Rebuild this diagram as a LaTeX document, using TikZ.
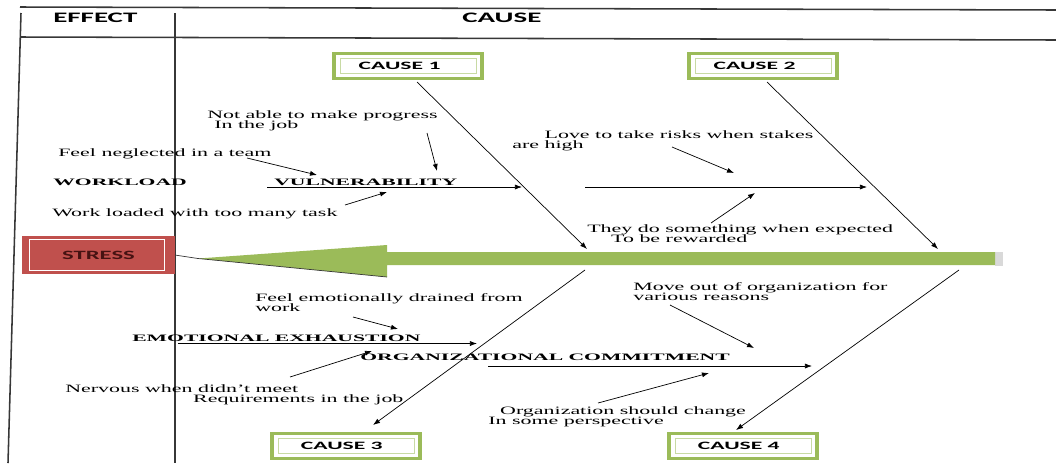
\documentclass[tikz,border=0pt]{standalone}
\usepackage{fontspec}
\setmainfont{Liberation Serif}
\newfontfamily\calibrifont{Carlito}
\usepackage{graphicx}
\definecolor{boxgreen}{RGB}{155, 187, 89}
\definecolor{spinegreen}{RGB}{155, 187, 89}
\definecolor{stressred}{RGB}{192, 80, 77}
\definecolor{stresstext}{RGB}{70, 18, 18}
\definecolor{framegray}{RGB}{55, 55, 55}
\usetikzlibrary{arrows.meta, positioning, calc}
\newcommand{\hwide}[2][1.95]{\scalebox{#1}[1]{#2}}
\tikzset{
  framebar/.style={draw=framegray, line width=1.1pt},
  causebox/.style={rectangle, draw=boxgreen, fill=white, line width=2.2pt, minimum width=3.7cm, minimum height=0.62cm, font=\calibrifont\bfseries\fontsize{8}{9}\selectfont,
    path picture={\draw[boxgreen!55, line width=0.5pt] ([shift={(6,5)}]path picture bounding box.north west) rectangle ([shift={(-6,-5)}]path picture bounding box.south east);}},
  stressbox/.style={rectangle, draw=stressred, fill=stressred, minimum width=3.8cm, minimum height=0.93cm, text=stresstext, font=\calibrifont\bfseries\fontsize{9}{10}\selectfont,
    path picture={\draw[white, line width=0.6pt] ([shift={(7,3)}]path picture bounding box.north west) rectangle ([shift={(-10,-3)}]path picture bounding box.south east);}},
  headlbl/.style={font=\calibrifont\bfseries\fontsize{10.3}{12}\selectfont, inner sep=0pt},
  catlbl/.style={font=\bfseries\fontsize{7}{8}\selectfont, inner sep=0pt},
  notelbl/.style={font=\fontsize{8}{7.6}\selectfont, inner sep=0pt, align=left},
  branch/.style={draw=black, line width=0.5pt, -{Latex[length=5pt, width=3.6pt]}},
}

\begin{document}
\begin{tikzpicture}[x=0.025cm, y=-0.025cm]
\useasboundingbox (0,0) rectangle (1056,463);

% table frame
\draw[framebar] (20,7) -- (1056,10);
\draw[framebar] (20,37) -- (1056,40);
\draw[framebar] (21,13) -- (8,463);
\draw[framebar] (175,13) -- (175,463);
\node[headlbl, anchor=base west] (effect) at (53,22.5) {\hwide[2]{EFFECT}};
\node[headlbl, anchor=base west] (cause) at (462,22.5) {\hwide[2]{CAUSE}};

% effect and spine
\node[stressbox] (stress) at (98.5,255) {\hwide{STRESS}};
\coordinate (tip) at (198,258.5);
\fill[gray!30] (995,252) rectangle (1003,266);
\fill[spinegreen] (tip) -- (387,245) -- (387,252) -- (995,252) -- (995,265) -- (387,265) -- (387,277) -- cycle;
\draw[framegray, line width=0.5pt] (stress.east) -- (tip) -- (387,277);

% cause boxes
\node[causebox] (c1) at (408,66) {\hwide[2.1]{CAUSE 1}\hspace*{12pt}};
\node[causebox] (c2) at (763,66) {\hwide[2.1]{CAUSE 2}\hspace*{12pt}};
\node[causebox] (c3) at (346,446) {\hwide[2.1]{CAUSE 3}\hspace*{6pt}};
\node[causebox] (c4) at (743,446) {\hwide[2.1]{CAUSE 4}\hspace*{6pt}};

% categories
\node[catlbl, anchor=base west] (workload) at (53,185.5) {\hwide[2.2]{WORKLOAD}};
\node[catlbl, anchor=base west] (vuln) at (274,185.5) {\hwide[2.2]{VULNERABILITY}};
\node[catlbl, anchor=base west] (exhaust) at (132,341.5) {\hwide[2.2]{EMOTIONAL EXHAUSTION}};
\node[catlbl, anchor=base west] (commit) at (360,360.5) {\hwide[2.2]{ORGANIZATIONAL COMMITMENT}};

% sub causes
\node[notelbl, anchor=base west] (neglect) at (58,156) {\hwide{Feel neglected in a team}};
\node[notelbl, anchor=north west] (progress) at (207,110) {\hwide{Not able to make progress}\\\hspace*{5pt}\hwide{In the job}};
\node[notelbl, anchor=base west] (loaded) at (52,216) {\hwide{Work loaded with too many task}};
\node[notelbl, anchor=north west] (risk) at (512,130) {\hspace*{23pt}\hwide{Love to take risks when stakes}\\\hwide{are high}};
\node[notelbl, anchor=north west] (reward) at (587,224) {\hwide{They do something when expected}\\\hspace*{17pt}\hwide{To be rewarded}};
\node[notelbl, anchor=north west] (drained) at (255,293) {\hwide{Feel emotionally drained from}\\\hwide{work}};
\node[notelbl, anchor=north west] (nervous) at (65,384) {\hwide{Nervous when didn't meet}\\\hspace*{91pt}\hwide{Requirements in the job}};
\node[notelbl, anchor=north west] (moveout) at (633,282) {\hwide{Move out of organization for}\\\hwide{various reasons}};
\node[notelbl, anchor=north west] (change) at (488,406) {\hspace*{8.5pt}\hwide{Organization should change}\\\hwide{In some perspective}};

% bone end points
\coordinate (c1-s) at (417,82);     \coordinate (c1-e) at (587,249);
\coordinate (c2-s) at (767,82);     \coordinate (c2-e) at (938,249);
\coordinate (c3-s) at (585,270);    \coordinate (c3-e) at (373,425);
\coordinate (c4-s) at (959,270);    \coordinate (c4-e) at (736,430);
\coordinate (vuln-s) at (267,187);  \coordinate (vuln-e) at (522,187);
\coordinate (bone2-s) at (585,187); \coordinate (bone2-e) at (867,187);
\coordinate (exhaust-s) at (178,343.5); \coordinate (exhaust-e) at (477,343.5);
\coordinate (commit-s) at (488,366);    \coordinate (commit-e) at (812,366);
\coordinate (neglect-s) at (247,158);   \coordinate (neglect-e) at (317,175);
\coordinate (progress-s) at (427,133);  \coordinate (progress-e) at (437,171);
\coordinate (loaded-s) at (345,205);    \coordinate (loaded-e) at (387,192);
\coordinate (risk-s) at (672,147);      \coordinate (risk-e) at (734,173);
\coordinate (reward-s) at (711,223);    \coordinate (reward-e) at (755,193);
\coordinate (drained-s) at (353,317);   \coordinate (drained-e) at (398,329);
\coordinate (nervous-s) at (290,377);   \coordinate (nervous-e) at (372,351);
\coordinate (moveout-s) at (670,305);   \coordinate (moveout-e) at (754,348);
\coordinate (change-s) at (598,403);    \coordinate (change-e) at (709,373);

\foreach \b in {c1, c2, c3, c4, vuln, bone2, exhaust, commit, neglect, progress, loaded, risk, reward, drained, nervous, moveout, change}
  \draw[branch] (\b-s) -- (\b-e);
\end{tikzpicture}
\end{document}
